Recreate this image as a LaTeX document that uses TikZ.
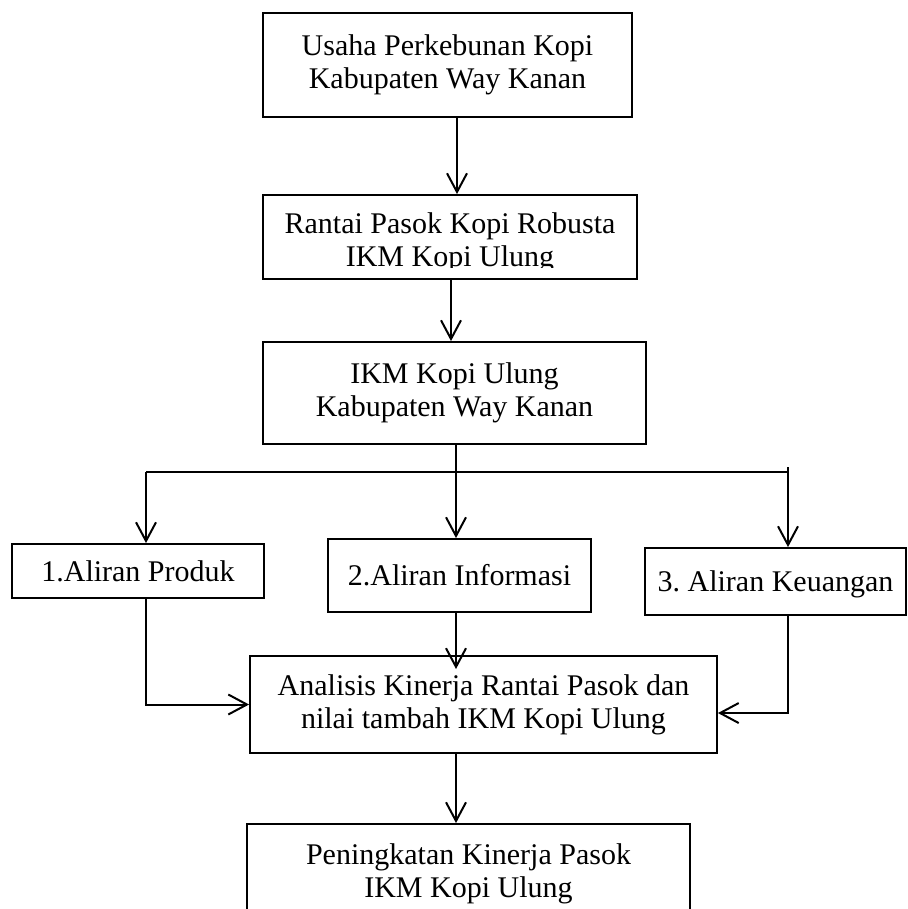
\documentclass[tikz,border=0pt]{standalone}
\usepackage{fontspec}
\setmainfont{Liberation Serif}
\usetikzlibrary{arrows.meta}
\frenchspacing
\begin{document}
\begin{tikzpicture}[x=0.75pt,y=-0.75pt,
  txt/.style={align=center, inner sep=0pt, font=\fontsize{22.5}{24.75}\selectfont},
  box/.style={txt, draw, line width=1.4pt},
  ln/.style={line width=1.5pt},
  arr/.style={line width=1.5pt, -{Straight Barb[length=14pt,width=15pt,line width=1.5pt]}}]
\useasboundingbox (0,0) rectangle (907,909);
\fill[white] (0,0) rectangle (907,909);

% boxes
\node[box, minimum width=276.75pt, minimum height=78pt] (b1) at (447.5,65) {Usaha Perkebunan Kopi\\Kabupaten Way Kanan};
\node[box, minimum width=280.5pt, minimum height=63pt] (b2) at (450,237) {};
\begin{scope}
  \clip (263,195) rectangle (637,267);
  \node[txt] (b2t) at (450,242.5) {Rantai Pasok Kopi Robusta\\IKM Kopi Ulung};
\end{scope}
\node[box, minimum width=287.25pt, minimum height=76.5pt] (b3) at (454.5,393) {IKM Kopi Ulung\\Kabupaten Way Kanan};
\node[box, minimum width=189pt, minimum height=40.5pt] (p1) at (138,571) {1.Aliran Produk};
\node[box, minimum width=197.25pt, minimum height=54.75pt] (p2) at (459.5,575.5) {2.Aliran Informasi};
\node[box, minimum width=195.75pt, minimum height=50.25pt, text depth=0pt] (p3) at (775.5,581.5) {3. Aliran Keuangan};
\node[box, minimum width=350.25pt, minimum height=72.75pt] (b4) at (483.5,704.5) {Analisis Kinerja Rantai Pasok dan\\nilai tambah IKM Kopi Ulung};
\node[box, minimum width=332.25pt, minimum height=74.25pt] (b5) at (468.5,873.5) {Peningkatan Kinerja Pasok\\IKM Kopi Ulung};

% columns
\coordinate (c1) at (457,0);
\coordinate (c2) at (451,0);
\coordinate (c3) at (456,0);
\coordinate (cL) at (146,0);
\coordinate (cR) at (788,0);
\coordinate (hy) at (0,472);
\coordinate (tR) at (788,467);
\coordinate (tipI) at (456,669);

% connectors
\draw[arr] (b1.south -| c1) -- (b2.north -| c1);
\draw[arr] (b2.south -| c2) -- (b3.north -| c2);
\draw[arr] (b3.south -| c3) -- (p2.north -| c3);
\draw[ln] (hy -| cL) -- (hy -| cR);
\draw[arr] (hy -| cL) -- (p1.north -| cL);
\draw[arr] (tR) -- (p3.north -| tR);
\draw[arr] (p1.south -| cL) |- (b4.west);
\draw[arr] (p2.south -| c3) -- (tipI);
\draw[arr] (p3.south -| cR) |- ([yshift=-6.4pt]b4.east);
\draw[arr] (b4.south -| c3) -- (b5.north -| c3);
\end{tikzpicture}
\end{document}
